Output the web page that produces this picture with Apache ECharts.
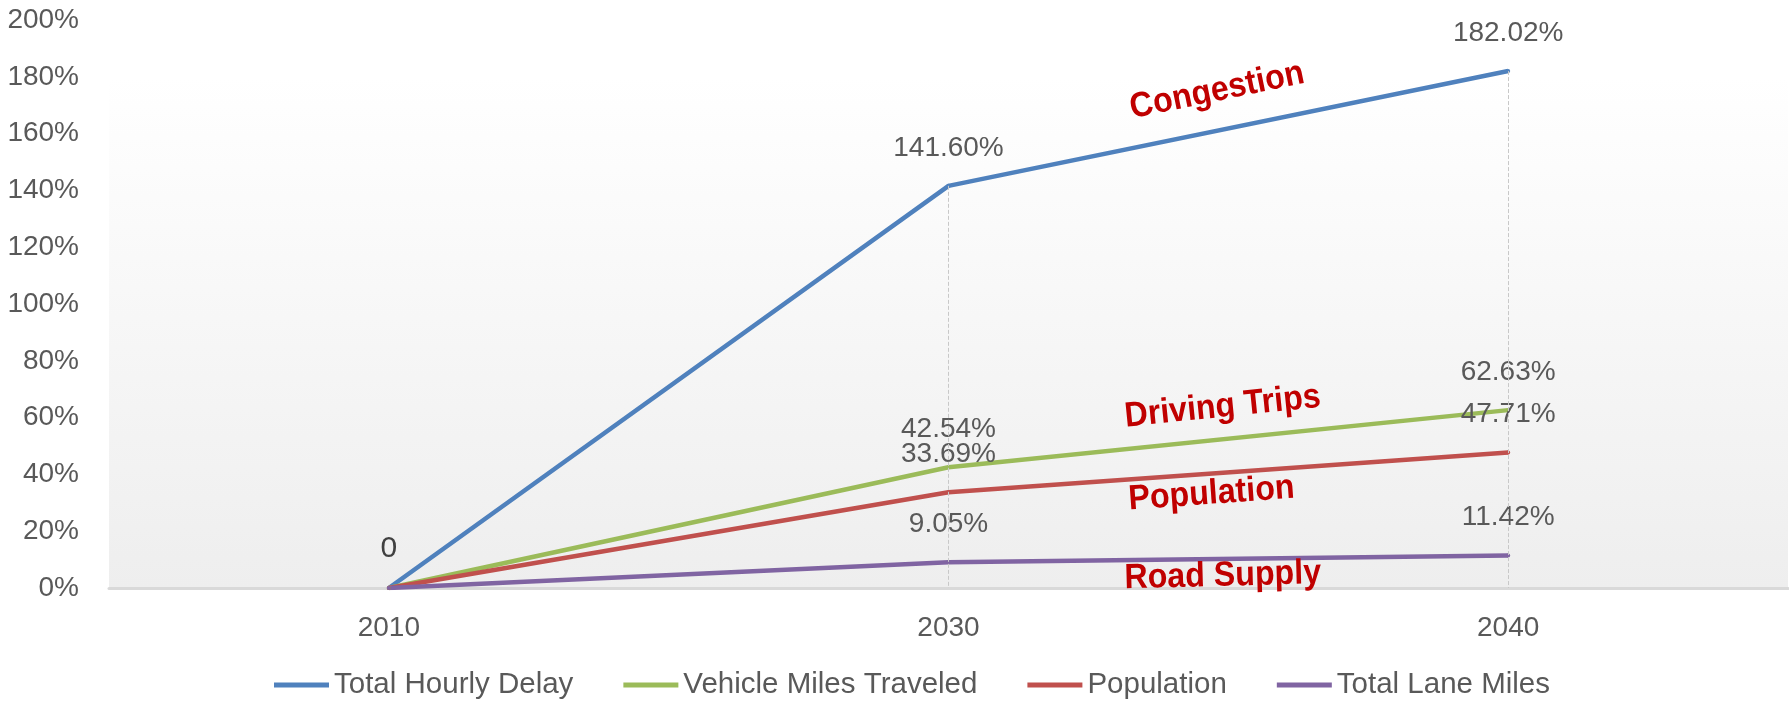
<!DOCTYPE html>
<html>
<head>
<meta charset="utf-8">
<script src="https://cdn.jsdelivr.net/npm/echarts@6/dist/echarts.min.js"></script>
<style>
	html,body{margin:0;padding:0;background:#fff;}
	#chart{width:1789px;height:709px;}
</style>
</head>
<body>
<div id="chart"></div>
<script>
/*数据*/
const years = ["2010","2030","2040"];
const delay = [0,141.60,182.02];
const vmt = [0,42.54,62.63];
const population = [0,33.69,47.71];
const laneMiles = [0,9.05,11.42];
const yTicks = {min:0,max:200,interval:20};

// annotation: text, value on y, fraction between 2030 and 2040, rotation
const notes = [
	{text:"Congestion",y:175,t:0.48,rot:11.6},
	{text:"Driving Trips",y:63.7,t:0.49,rot:5.8},
	{text:"Population",y:33.1,t:0.47,rot:4.1},
	{text:"Road Supply",y:4.2,t:0.49,rot:1.5}
];

const gray = "#595959";
const font = "Liberation Sans";

const $chart = document.getElementById("chart");
const myChart = echarts.init($chart,null,{renderer:"canvas"});

const labelFmt = p=>{
	if(p.dataIndex===0){
		return p.seriesIndex===0 ? "0" : "";
	}
	return p.value.toFixed(2)+"%";
};

const makeSeries = (name,data,color)=>({
	name,
	type:"line",
	data,
	symbol:"circle",
	symbolSize:4,
	itemStyle:{color},
	lineStyle:{color,width:4.5},
	label:{
		show:true,
		position:"top",
		distance:22,
		formatter:labelFmt,
		color:gray,
		fontFamily:font,
		fontSize:28
	}
});

const blue = makeSeries("Total Hourly Delay",delay,"#4f81bd");
// drop lines
blue.markLine = {
	silent:true,
	symbol:"none",
	label:{show:false},
	lineStyle:{type:"dashed",color:"#c8c8c8",width:1},
	data:years.slice(1).map((y,i)=>[{coord:[y,delay[i+1]]},{coord:[y,0]}])
};
blue.data = delay.map((v,i)=> i===0 ? {value:v,label:{color:"#404040",fontSize:30}} : v);

const option = {
	animation:false,
	backgroundColor:"#fff",
	grid:{
		left:109,right:1,top:20,bottom:121,
		show:true,borderWidth:0,
		backgroundColor:new echarts.graphic.LinearGradient(0,0,0,1,[
			{offset:0,color:"#ffffff"},
			{offset:0.1,color:"#ffffff"},
			{offset:1,color:"#eeeeee"}
		])
	},
	legend:{
		bottom:4,
		left:269,
		icon:"rect",
		itemWidth:55,
		itemHeight:5,
		itemGap:50,
		textStyle:{color:gray,fontFamily:font,fontSize:29.5}
	},
	xAxis:{
		type:"category",
		data:years,
		boundaryGap:true,
		axisLine:{lineStyle:{color:"#d9d9d9",width:3}},
		axisTick:{show:false},
		axisLabel:{color:gray,fontFamily:font,fontSize:28,margin:26},
		splitLine:{show:false}
	},
	yAxis:{
		type:"value",
		min:yTicks.min,max:yTicks.max,interval:yTicks.interval,
		axisLine:{show:false},
		axisTick:{show:false},
		splitLine:{show:false},
		axisLabel:{color:gray,fontFamily:font,fontSize:28,margin:30,formatter:"{value}%"}
	},
	series:[
		blue,
		makeSeries("Vehicle Miles Traveled",vmt,"#9bbb59"),
		makeSeries("Population",population,"#c0504d"),
		makeSeries("Total Lane Miles",laneMiles,"#8064a2")
	]
};

myChart.setOption(option);

// red annotations placed from axis coordinates
const x1 = myChart.convertToPixel({xAxisIndex:0},years[1]);
const x2 = myChart.convertToPixel({xAxisIndex:0},years[2]);
myChart.setOption({
	graphic:notes.map(n=>({
		type:"text",
		x:x1+(x2-x1)*n.t,
		y:myChart.convertToPixel({yAxisIndex:0},n.y),
		rotation:n.rot*Math.PI/180,
		scaleX:0.92,
		style:{
			text:n.text,
			fill:"#c00000",
			font:"bold 35px 'Liberation Sans'",
			align:"center",
			verticalAlign:"middle"
		},
		z:10
	}))
});
</script>
</body>
</html>
